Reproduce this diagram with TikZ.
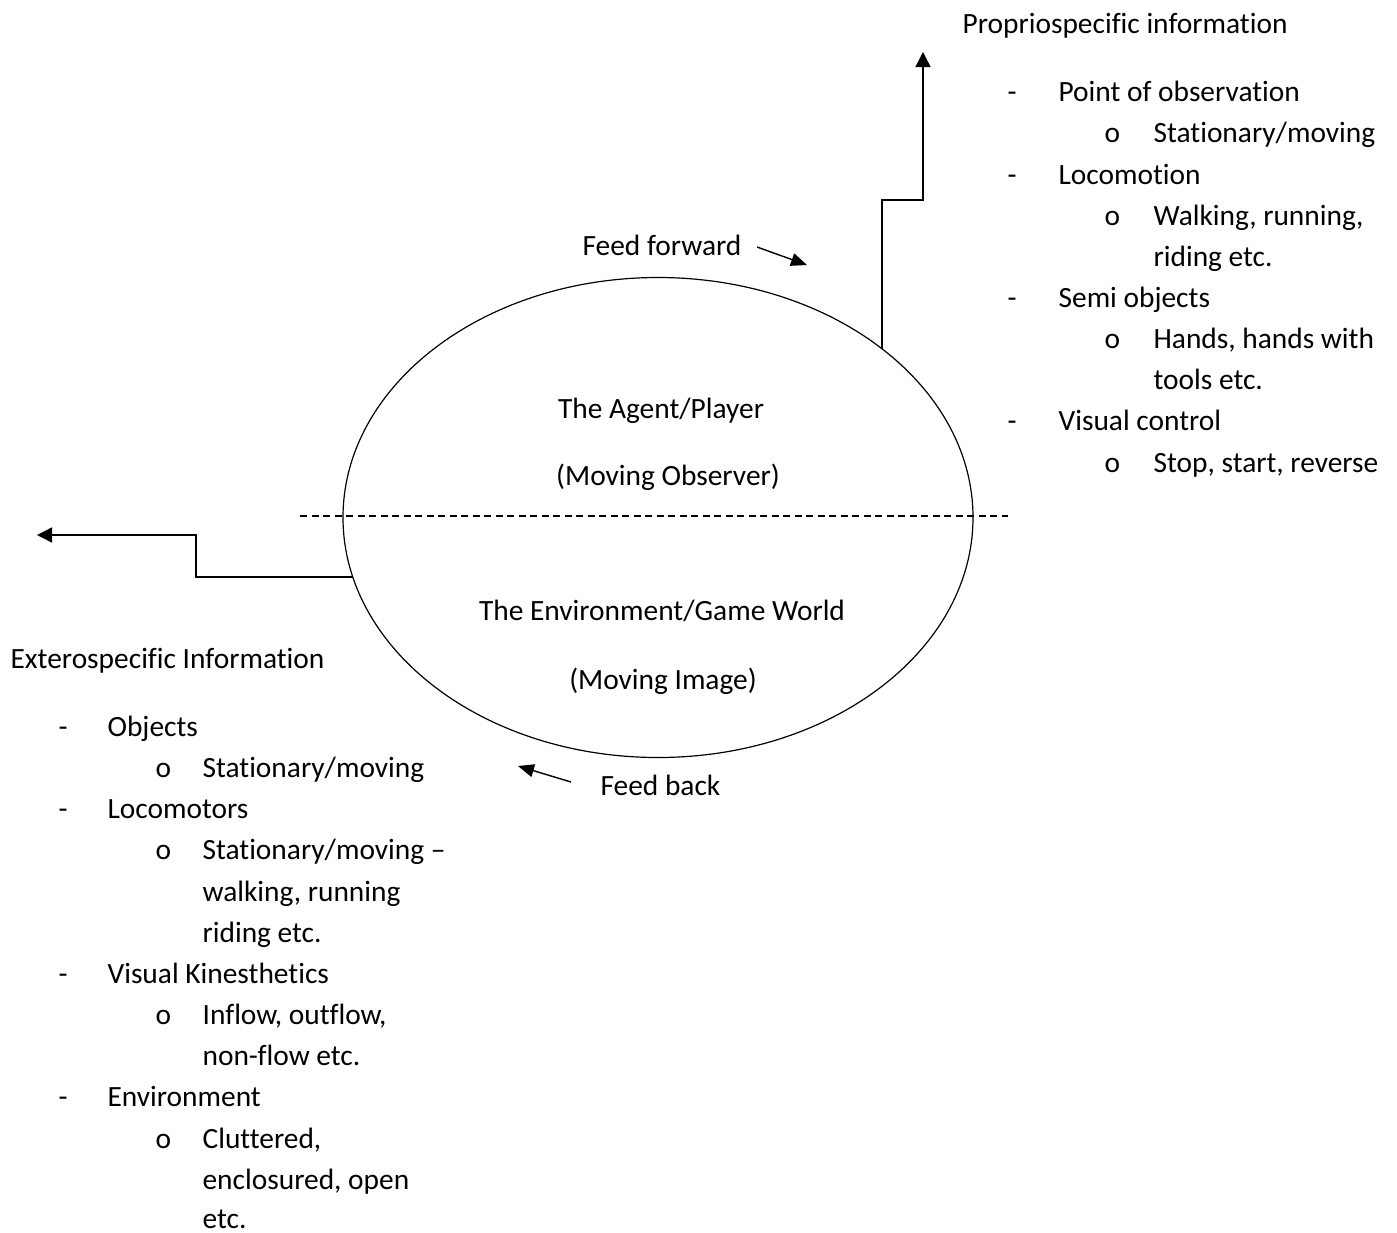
\documentclass[tikz,border=0pt]{standalone}
\usepackage{fontspec}
\setmainfont[Ligatures={NoCommon}]{Carlito}
\usetikzlibrary{arrows.meta,shapes.geometric}
\begin{document}
\begin{tikzpicture}[x=1pt,y=-1pt,
  txt/.style={inner sep=0pt,anchor=base west,font=\fontsize{29.4}{34}\selectfont},
  ctxt/.style={inner sep=0pt,anchor=base,font=\fontsize{29.4}{34}\selectfont},
  conn/.style={line width=1.4pt,-{Triangle[width=15pt,length=15pt]}},
  feed/.style={line width=1.4pt,-{Triangle[width=13pt,length=16pt]}},
  line width=1.2pt]
\useasboundingbox (0,0) rectangle (1397,1232);
% ellipse
\node[ellipse,draw,line width=1.2pt,minimum width=630pt,minimum height=480pt,inner sep=0pt,outer sep=0pt] (ell) at (658,517.5) {};
% dashed divider
\coordinate (dl) at (300,516);
\coordinate (dr) at (1008,516);
\draw[line width=1.2pt,dash pattern=on 7pt off 4.5pt] (dl) -- (dr);
% connectors
\coordinate (ptip) at (923,52);
\coordinate (rstep) at (923,200);
\draw[conn] (ell.37.2) |- (rstep) -- (ptip);
\coordinate (etip) at (37,535);
\coordinate (lstep) at (196,535);
\draw[conn] (ell.191.9) -| (lstep) -- (etip);
% feed arrows
\coordinate (ff1) at (757,247);
\coordinate (ff2) at (807,265);
\draw[feed] (ff1) -- (ff2);
\coordinate (fb1) at (571,782);
\coordinate (fb2) at (518,766);
\draw[feed] (fb1) -- (fb2);
% ellipse texts
\node[ctxt] (t1) at (661,418) {The Agent/Player};
\node[ctxt] (t2) at (668,485) {(Moving Observer)};
\node[ctxt] (t3) at (662,620) {The Environment/Game World};
\node[ctxt] (t4) at (663,689) {(Moving Image)};
\node[txt] (ffl) at (582,255) {Feed forward};
\node[txt] (fbl) at (600,795) {Feed back};
% right list
\node[txt] (ph) at (962,33) {Propriospecific information};
\node[txt] (pd1) at (1007,101) {-};
\node[txt] (p1) at (1058,101) {Point of observation};
\node[txt] (po1) at (1104,142) {o};
\node[txt] (p1a) at (1153,142) {Stationary/moving};
\node[txt] (pd2) at (1007,184) {-};
\node[txt] (p2) at (1058,184) {Locomotion};
\node[txt] (po2) at (1104,225) {o};
\node[txt] (p2a) at (1153,225) {Walking, running,};
\node[txt] (p2b) at (1153,266) {riding etc.};
\node[txt] (pd3) at (1007,307) {-};
\node[txt] (p3) at (1058,307) {Semi objects};
\node[txt] (po3) at (1104,348) {o};
\node[txt] (p3a) at (1153,348) {Hands, hands with};
\node[txt] (p3b) at (1153,389) {tools etc.};
\node[txt] (pd4) at (1007,430) {-};
\node[txt] (p4) at (1058,430) {Visual control};
\node[txt] (po4) at (1104,472) {o};
\node[txt] (p4a) at (1153,472) {Stop, start, reverse};
% left list
\node[txt] (eh) at (10,668) {Exterospecific Information};
\node[txt] (ed1) at (58,736) {-};
\node[txt] (e1) at (107,736) {Objects};
\node[txt] (eo1) at (155,777) {o};
\node[txt] (e1a) at (202,777) {Stationary/moving};
\node[txt] (ed2) at (58,818) {-};
\node[txt] (e2) at (107,818) {Locomotors};
\node[txt] (eo2) at (155,859) {o};
\node[txt] (e2a) at (202,859) {Stationary/moving –};
\node[txt] (e2b) at (202,901) {walking, running};
\node[txt] (e2c) at (202,942) {riding etc.};
\node[txt] (ed3) at (58,983) {-};
\node[txt] (e3) at (107,983) {Visual Kinesthetics};
\node[txt] (eo3) at (155,1024) {o};
\node[txt] (e3a) at (202,1024) {Inflow, outflow,};
\node[txt] (e3b) at (202,1065) {non-flow etc.};
\node[txt] (ed4) at (58,1106) {-};
\node[txt] (e4) at (107,1106) {Environment};
\node[txt] (eo4) at (155,1148) {o};
\node[txt] (e4a) at (202,1148) {Cluttered,};
\node[txt] (e4b) at (202,1189) {enclosured, open};
\node[txt] (e4c) at (202,1228) {etc.};
\end{tikzpicture}
\end{document}
